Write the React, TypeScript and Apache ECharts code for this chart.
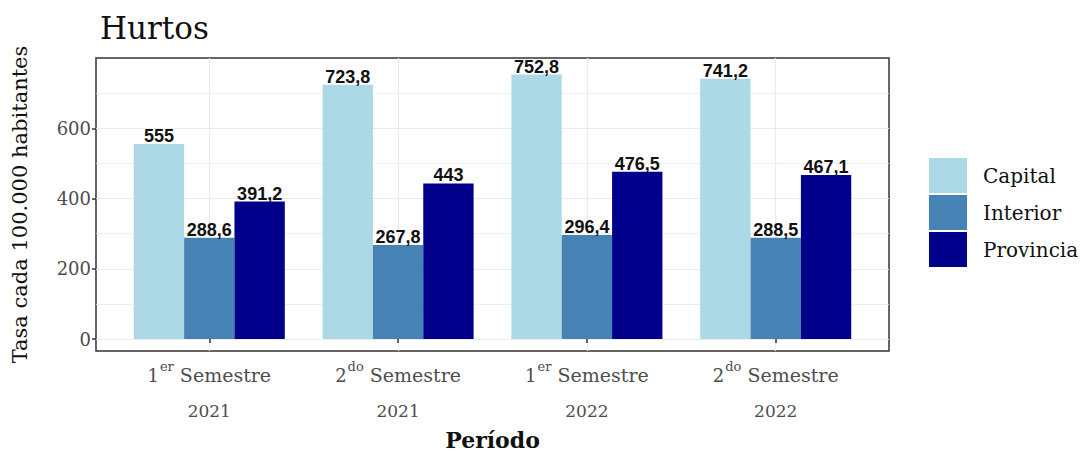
import React, { useEffect, useRef } from "react";
import * as echarts from "echarts";

const semesterNums = ["1", "2", "1", "2"];
const semesterSups = ["er", "do", "er", "do"];
const years = ["2021", "2021", "2022", "2022"];
const seriesNames = ["Capital", "Interior", "Provincia"];
const capital = [555, 723.8, 752.8, 741.2];
const interior = [288.6, 267.8, 296.4, 288.5];
const provincia = [391.2, 443, 476.5, 467.1];
const yTicks = [0, 200, 400, 600];
const yMinorTicks = [100, 300, 500, 700];
const colors = ["#ADD8E6", "#4682B4", "#00008B"];

const GRID_LEFT = 96;
const GRID_TOP = 58;
const GRID_W = 793;
const GRID_H = 296;
const X_MIN = 0.4;
const X_MAX = 4.6;
const Y_MIN = -34;
const Y_MAX = 800;
const BAR_W = (GRID_W / (X_MAX - X_MIN)) * (0.8 / 3);

const serif = "DejaVu Serif";

export default function App() {
  const ref = useRef<HTMLDivElement>(null);
  useEffect(() => {
    if (!ref.current) return;
    const chart = echarts.init(ref.current, null, { renderer: "svg" });
    const values = [capital, interior, provincia];
    const bars = seriesNames.map((name, k) => ({
      name,
      type: "bar",
      z: 3,
      barWidth: BAR_W,
      barGap: "0%",
      itemStyle: { color: colors[k] },
      data: values[k].map((v, i) => [i + 1, v]),
      label: {
        show: true,
        position: "top",
        distance: -1,
        fontFamily: "Liberation Sans",
        fontWeight: "bold",
        fontSize: 18,
        color: "#111",
        formatter: (p: any) => String(p.value[1]).replace(".", ","),
      },
    }));
    chart.setOption({
      animation: false,
      title: {
        text: "Hurtos",
        left: 95,
        top: 7,
        textStyle: { fontFamily: serif, fontSize: 31, fontWeight: "normal", color: "#111" },
      },
      legend: {
        data: seriesNames,
        orient: "vertical",
        left: 924,
        top: 153,
        itemWidth: 38,
        itemHeight: 35,
        itemGap: 2,
        icon: "rect",
        textStyle: { fontFamily: serif, fontSize: 20, color: "#111", padding: [0, 0, 0, 11] },
      },
      grid: {
        left: GRID_LEFT,
        top: GRID_TOP,
        width: GRID_W,
        height: GRID_H,
        show: true,
        borderColor: "#333",
        borderWidth: 1.5,
        backgroundColor: "transparent",
      },
      xAxis: {
        type: "value",
        min: X_MIN,
        max: X_MAX,
        name: "Período",
        nameLocation: "middle",
        nameGap: 78,
        nameTextStyle: { fontFamily: serif, fontSize: 22, fontWeight: "bold", color: "#111" },
        axisLine: { show: false },
        axisTick: { show: true, length: 4, customValues: [1, 2, 3, 4], lineStyle: { color: "#333", width: 1.5 } },
        splitLine: { show: true, lineStyle: { color: "#EBEBEB", width: 1.2 } },
        axisLabel: {
          customValues: [1, 2, 3, 4],
          margin: 9,
          color: "#4D4D4D",
          fontFamily: serif,
          formatter: (v: number) => {
            const i = Math.round(v) - 1;
            return `{n|${semesterNums[i]}}{s|${semesterSups[i]}}{m| Semestre}\n{y|${years[i]}}`;
          },
          rich: {
            n: { fontFamily: serif, fontSize: 18, color: "#4D4D4D", lineHeight: 30 },
            m: { fontFamily: serif, fontSize: 19, color: "#4D4D4D", lineHeight: 30 },
            s: { fontFamily: serif, fontSize: 13, color: "#4D4D4D", verticalAlign: "top", lineHeight: 20, padding: [0, 0, 0, 1] },
            y: { fontFamily: serif, fontSize: 17, color: "#4D4D4D", lineHeight: 42 },
          },
        },
      },
      yAxis: {
        type: "value",
        min: Y_MIN,
        max: Y_MAX,
        name: "Tasa cada 100.000 habitantes",
        nameLocation: "middle",
        nameGap: 66,
        nameTextStyle: { fontFamily: serif, fontSize: 21, color: "#111" },
        axisLine: { show: false },
        axisTick: { show: true, length: 4, customValues: yTicks, lineStyle: { color: "#333", width: 1.5 } },
        splitLine: { show: true, lineStyle: { color: "#EBEBEB", width: 1.2 } },
        axisLabel: {
          customValues: yTicks,
          margin: 5,
          color: "#4D4D4D",
          fontFamily: serif,
          fontSize: 18,
        },
      },
      series: [
        {
          name: "_minor",
          type: "line",
          data: [],
          z: 1,
          silent: true,
          markLine: {
            silent: true,
            symbol: "none",
            z: 1,
            label: { show: false },
            lineStyle: { color: "#EBEBEB", width: 0.8, type: "solid" },
            data: yMinorTicks.map((v) => ({ yAxis: v })),
          },
        },
        ...bars,
      ],
    });
    return () => chart.dispose();
  }, []);
  return (
    <div
      ref={ref}
      style={{ position: "fixed", left: 0, top: 0, width: 1084, height: 456, background: "#fff" }}
    />
  );
}
